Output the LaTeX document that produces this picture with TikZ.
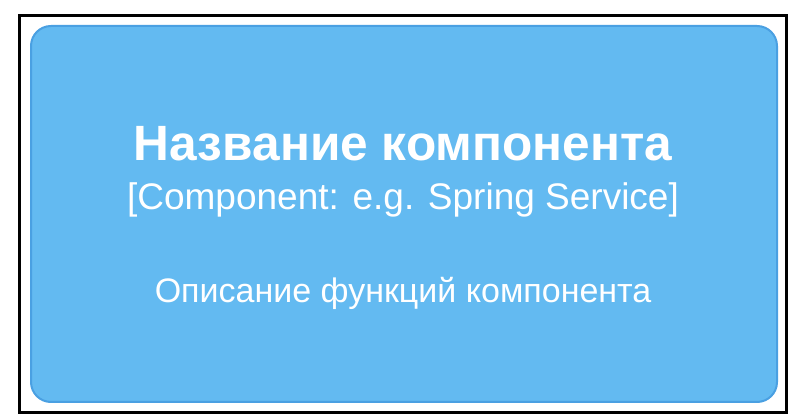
\documentclass[tikz,border=0pt]{standalone}
\usepackage{fontspec}
\setmainfont{Liberation Sans}
\usepackage{tikz}

\definecolor{compfill}{RGB}{99,186,241}
\definecolor{compline}{RGB}{74,160,226}

\begin{document}
\begin{tikzpicture}[x=1pt, y=1pt]
			\useasboundingbox[fill=white] (0,0) rectangle (800,420);
			\draw[line width=3pt, color=black] (19.5,7.5) rectangle (786.5,404.5);
			\draw[line width=2pt, color=compline, fill=compfill, rounded corners=20pt] (31,18) rectangle (777,394);
			\node[anchor=base, text=white, font=\fontsize{49.6}{58}\selectfont\bfseries] (title) at (403,259) {Название компонента};
			\node[anchor=base, text=white, font=\fontsize{37}{44}\selectfont] (kind) at (403,210) {[Component: e.g. Spring Service]};
			\node[anchor=base, text=white, font=\fontsize{34}{40}\selectfont] (descr) at (403,117) {Описание функций компонента};
		\end{tikzpicture}
\end{document}
